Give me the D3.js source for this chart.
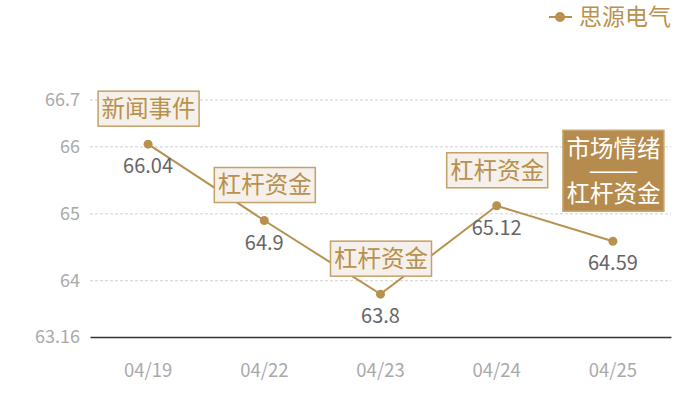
<!DOCTYPE html>
<html><head><meta charset="utf-8">
<script src="https://cdn.jsdelivr.net/npm/d3@7"></script>
<style>body{margin:0;background:#fff}svg{display:block;font-family:"Noto Sans CJK SC","Noto Sans",sans-serif}</style>
</head><body><svg id="c" width="700" height="400"></svg>
<script>
const categories = ["04/19","04/22","04/23","04/24","04/25"];
const values = [66.04, 64.9, 63.8, 65.12, 64.59];
const seriesName = "思源电气";
const yTicks = [63.16, 64, 65, 66, 66.7];
const annotations = ["新闻事件","杠杆资金","杠杆资金","杠杆资金","市场情绪\n——\n杠杆资金"];
const annotationFilled = [false,false,false,false,true];

const gold = "#b8914f";
const font = '"Noto Sans CJK SC","Noto Sans",sans-serif';
const svg = d3.select("#c");
const x = d3.scaleBand().domain(categories).range([90, 671]);
const y = d3.scaleLinear().domain([63.16, 66.7]).range([337, 100]);
const cx = d => x(d) + x.bandwidth()/2;

// grid
svg.append("g").selectAll("line").data(yTicks.filter(t => t !== 63.16)).join("line")
  .attr("x1", 90).attr("x2", 671).attr("y1", d => y(d)).attr("y2", d => y(d))
  .attr("stroke", "#d0d0d0").attr("stroke-dasharray", "3,2").attr("stroke-width", 1);

// y axis
const ya = svg.append("g").attr("transform", "translate(90,0)")
  .call(d3.axisLeft(y).tickValues(yTicks).tickFormat(d => String(d)).tickSize(0).tickPadding(10));
ya.attr("font-family", font);
ya.select(".domain").remove();
ya.selectAll("text").attr("fill", "#aaa").attr("font-size", 18);

// x axis
const xa = svg.append("g").attr("transform", `translate(0,${y(63.16)})`)
  .call(d3.axisBottom(x).tickSize(0).tickPadding(27));
xa.attr("font-family", font);
xa.select(".domain").attr("stroke", "#333").attr("stroke-width", 1.5);
xa.selectAll("text").attr("fill", "#aaa").attr("font-size", 18.5);

// line
const data = categories.map((c, i) => ({c, v: values[i], a: annotations[i], f: annotationFilled[i]}));
svg.append("path").datum(data)
  .attr("d", d3.line().x(d => cx(d.c)).y(d => y(d.v)))
  .attr("fill", "none").attr("stroke", gold).attr("stroke-width", 2);
svg.append("g").selectAll("circle").data(data).join("circle")
  .attr("cx", d => cx(d.c)).attr("cy", d => y(d.v)).attr("r", 4.5).attr("fill", gold);

// value labels
svg.append("g").selectAll("text").data(data).join("text")
  .attr("x", d => cx(d.c)).attr("y", d => y(d.v) + 29)
  .attr("text-anchor", "middle").attr("font-size", 20).attr("fill", "#666")
  .text(d => String(d.v));

// annotation boxes
const fs = 23.5;
data.forEach(d => {
  const lines = d.a.split("\n");
  const w = 101;
  const h = lines.length === 1 ? 35 : 81;
  const bottom = y(d.v) - (lines.length === 1 ? 18 : 30);
  const g = svg.append("g");
  g.append("rect").attr("x", cx(d.c) - w/2 + 0.5).attr("y", bottom - h).attr("width", w).attr("height", h)
    .attr("fill", d.f ? "#b58c4e" : "#f5f0ea")
    .attr("stroke", d.f ? "#c9a672" : "#c4a06a").attr("stroke-width", 1.5);
  const step = lines.length === 1 ? 0 : 22.5;
  const mid = bottom - h/2;
  lines.forEach((t, i) => {
    const tx = g.append("text").attr("x", cx(d.c) + 0.5)
      .attr("y", mid + (i - (lines.length-1)/2) * step)
      .attr("dy", "0.36em").attr("text-anchor", "middle")
      .attr("font-size", fs).attr("fill", d.f ? "#fff" : gold).text(t);
    if (/^—+$/.test(t)) tx.attr("textLength", 50).attr("lengthAdjust", "spacingAndGlyphs");
  });
});

// legend
const lg = svg.append("g");
lg.append("line").attr("x1", 549).attr("x2", 572).attr("y1", 17).attr("y2", 17).attr("stroke", gold).attr("stroke-width", 2);
lg.append("circle").attr("cx", 560).attr("cy", 17).attr("r", 5).attr("fill", gold);
lg.append("text").attr("x", 579).attr("y", 17).attr("dy", "0.36em").attr("font-size", 23).attr("fill", gold).text(seriesName);
</script></body></html>
